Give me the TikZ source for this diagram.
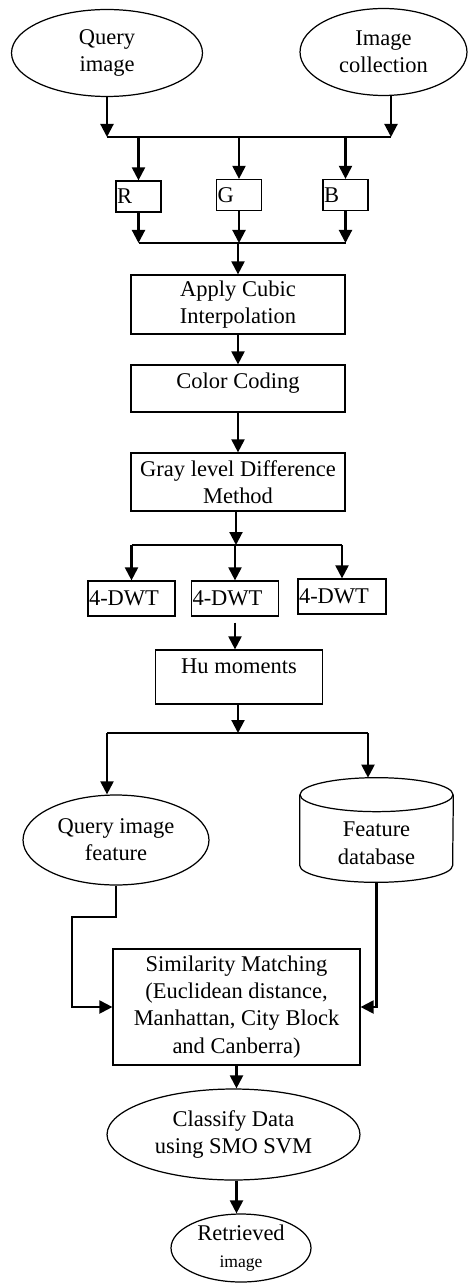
\documentclass[tikz,border=0pt]{standalone}
\usepackage{fontspec}
\setmainfont{Liberation Serif}
\usetikzlibrary{arrows.meta, shapes.geometric, positioning}

\begin{document}
\begin{tikzpicture}[x=0.02cm, y=-0.02cm,
        font=\fontsize{12.8}{15.4}\selectfont,
        box/.style={draw, line width=0.7pt, inner sep=0pt, align=center},
        oval/.style={draw, ellipse, line width=0.7pt, inner sep=0pt, align=center},
        chan/.style={box, minimum height=6.2mm, text width=8.6mm, inner xsep=0.2mm, align=left},
        dwt/.style={box, minimum height=7mm, text width=17mm, inner xsep=0.2mm, align=left},
        arr/.style={line width=1.2pt, -{Triangle[length=2.6mm, width=2.6mm]}},
        bar/.style={line width=0.75pt}]
        \useasboundingbox (0,0) rectangle (468,1283);

        % Inputs
        \node[oval, minimum width=38.2mm, minimum height=17.4mm] (qimg) at (107,53) {Query\\image};
        \node[oval, minimum width=33.4mm, minimum height=17.4mm] (icoll) at (383.5,52) {Image\\collection};
        \coordinate (s1) at (107,137);
        \coordinate (s2) at (391,137);
        \draw[arr] (qimg.south) -- (s1);
        \draw[arr] (icoll.south -| s2) -- (s2);
        \draw[bar] (s1) -- (s2);

        % R, G, B channels
        \node[chan] (R) at (138.5,196.5) {R};
        \node[chan] (G) at (239,195) {G};
        \node[chan] (B) at (345.5,195) {B};
        \coordinate (m1) at (238,243);
        \foreach \c in {R,G,B} {
            \draw[arr] (\c |- s1) -- (\c.north);
            \draw[arr] (\c.south) -- (\c |- m1);
        }
        \draw[bar] (R |- m1) -- (B |- m1);

        % Preprocessing
        \node[box, minimum width=42.8mm, minimum height=11.8mm] (apply) at (238,304.5) {Apply Cubic\\Interpolation};
        \node[box, minimum width=42.8mm, minimum height=9.4mm, text height=3.1mm, text depth=3.1mm] (color) at (238,388.5) {Color Coding};
        \node[box, minimum width=42.8mm, minimum height=11.6mm] (gray) at (238,482) {Gray level Difference\\Method};
        \draw[arr] (m1) -- (apply.north);
        \draw[arr] (apply) -- (color);
        \draw[arr] (color) -- (gray);

        % Wavelet transforms
        \node[dwt] (d1) at (131.5,598.5) {4-DWT};
        \node[dwt] (d2) at (235,598.5) {4-DWT};
        \node[dwt, text width=17.2mm] (d3) at (342,596.5) {4-DWT};
        \coordinate (s3) at (236,545);
        \draw[arr] (gray.south -| s3) -- (s3);
        \draw[bar] (d1 |- s3) -- (d3 |- s3);
        \foreach \d in {d1,d2,d3}
            \draw[arr] (\d |- s3) -- (\d.north);

        % Hu moments
        \node[box, minimum width=33.4mm, minimum height=10.8mm, text height=3.1mm, text depth=4.7mm] (hu) at (239,677) {Hu moments};
        \draw[arr] ([yshift=-1.2mm]d2.south) -- (d2 |- hu.north);
        \coordinate (s4) at (238,733);
        \coordinate (s4a) at (107,733);
        \coordinate (s4b) at (368,733);
        \draw[arr] (hu.south -| s4) -- (s4);
        \draw[bar] (s4a) -- (s4b);

        % Query feature and database
        \node[oval, minimum width=37.2mm, minimum height=18mm] (qfeat) at (116,840) {Query image\\feature};
        \node[inner sep=0pt, minimum width=30.6mm, minimum height=20.8mm, text height=13.6mm, text depth=0mm, align=center] (fdb) at (376.5,830) {Feature\\database};
        \draw[line width=0.7pt] ([yshift=-3.4mm]fdb.north) ellipse [x radius=15.3mm, y radius=3.4mm];
        \draw[line width=0.7pt] ([yshift=-3.4mm]fdb.north west) -- ([yshift=3.4mm]fdb.south west)
            arc[start angle=180, end angle=360, x radius=15.3mm, y radius=3.4mm] -- ([yshift=-3.4mm]fdb.north east);
        \draw[arr] (s4a) -- (s4a |- qfeat.north);
        \draw[arr] (s4b) -- (s4b |- fdb.north);

        % Matching
        \node[box, minimum width=49.4mm, minimum height=23.2mm] (sim) at (236.5,1007) {Similarity Matching\\(Euclidean distance,\\Manhattan, City Block\\and Canberra)};
        \coordinate (k1) at (72,917);
        \draw[arr] (qfeat.south) |- (k1) |- (sim.west);
        \draw[arr] (fdb.south) |- (sim.east);

        % Classification and result
        \node[oval, minimum width=50.6mm, minimum height=18.2mm] (cls) at (233.5,1134.5) {Classify Data\\using SMO SVM};
        \node[oval, minimum width=28mm, minimum height=13.6mm] (retr) at (241,1248) {Retrieved\\{\fontsize{10}{12}\selectfont image}};
        \draw[arr] (sim.south) -- (sim.south |- cls.north);
        \draw[arr] (sim.south |- cls.south) -- (sim.south |- retr.north);

    \end{tikzpicture}
\end{document}
